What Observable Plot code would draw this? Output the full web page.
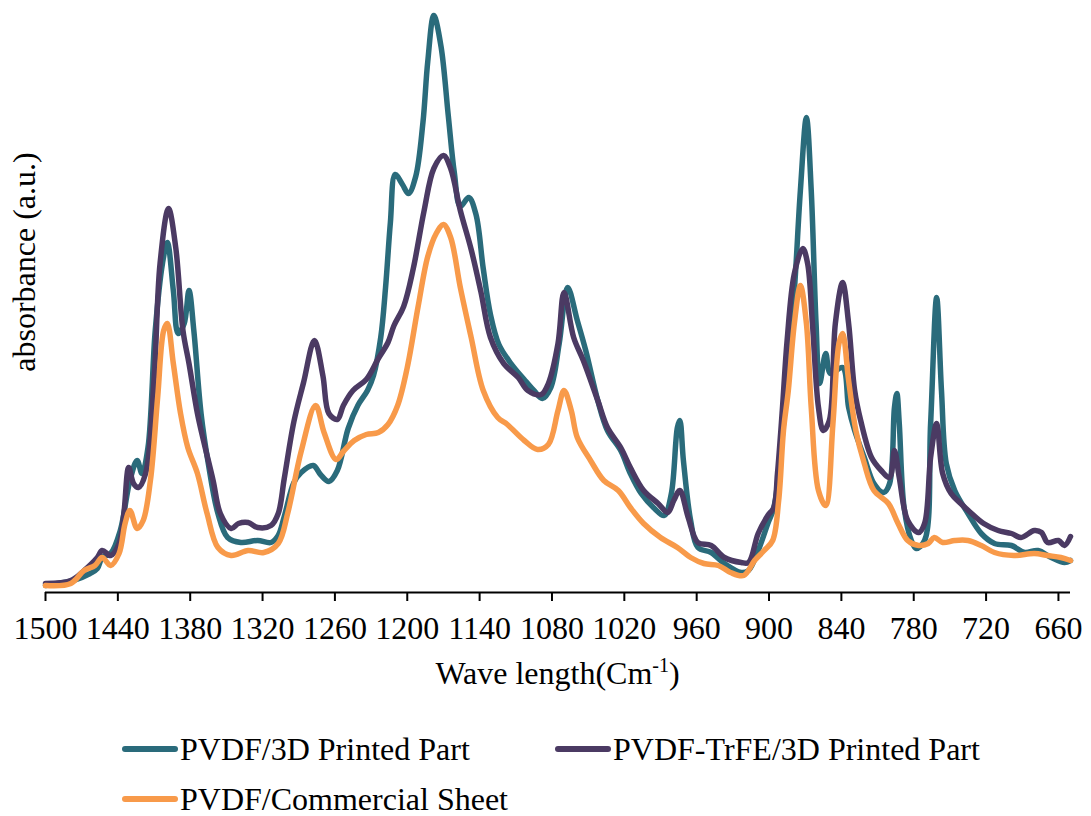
<!DOCTYPE html>
<html>
<head>
<meta charset="utf-8">
<script src="https://cdn.jsdelivr.net/npm/d3@7"></script>
<script src="https://cdn.jsdelivr.net/npm/@observablehq/plot@0.6"></script>
<style>
  html, body { margin: 0; padding: 0; background: #fff; }
  #wrap { position: relative; width: 1091px; height: 816px; font-family: "Liberation Serif", "Times New Roman", serif; }
  #legend { position: absolute; left: 0; top: 700px; width: 1091px; height: 116px; font-size: 32px; color: #000; }
  .item { position: absolute; display: flex; align-items: center; line-height: 32px; white-space: nowrap; }
  .sw { display: inline-block; width: 56px; height: 6px; border-radius: 3px; margin-right: 2px; }
</style>
</head>
<body>
<div id="wrap">
  <div id="chart"></div>
  <div id="legend"></div>
</div>
<script>
// ---- data (wavenumber in cm-1, absorbance in arbitrary units) ----
const seriesNames = ["PVDF/3D Printed Part", "PVDF-TrFE/3D Printed Part", "PVDF/Commercial Sheet"];
const seriesColors = ["#2a6b7b", "#4b3a63", "#f89a4a"];
const xTicks = [1500, 1440, 1380, 1320, 1260, 1200, 1140, 1080, 1020, 960, 900, 840, 780, 720, 660];
const xLabel = "Wave length(Cm";
const xLabelSup = "-1";
const yLabel = "absorbance (a.u.)";

const tealWn = [1500,1477,1463,1457,1453,1446,1438,1430,1424,1420,1415,1409,1403,1399,1394,1390,1385,1381,1377,1371,1365,1357,1349,1338,1324,1313,1307,1302,1294,1288,1278,1272,1265,1258,1249,1241,1233,1228,1222,1218,1214,1210,1204,1199,1193,1187,1183,1178,1172,1166,1161,1156,1149,1143,1137,1131,1124,1114,1103,1095,1088,1081,1074,1067,1059,1052,1042,1034,1023,1015,1006,995,987,981,976,974,971,965,959,948,937,923,917,909,901,896,888,879,874,869,865,861,858,853,849,839,834,829,821,813,805,800,796,794,792,788,782,778,771,766,761,757,753,746,735,724,713,699,688,677,666,655,650];
const tealAbs = [7,12,19,24,35,39,62,112,132,119,145,262,329,350,302,259,269,302,262,179,129,79,55,50,52,50,57,76,110,120,127,118,111,122,164,187,202,217,255,305,370,418,408,399,416,470,531,577,546,477,420,386,395,378,324,278,248,229,213,202,194,205,249,305,272,242,192,162,142,119,99,84,77,99,165,172,132,72,45,40,29,20,22,42,69,85,169,302,402,475,402,269,209,239,219,225,185,162,135,109,100,109,185,199,169,85,52,44,52,169,295,202,129,102,79,59,49,47,40,42,35,30,32];

const purpleWn = [1500,1479,1468,1457,1453,1446,1439,1435,1431,1427,1423,1417,1410,1405,1398,1392,1386,1381,1374,1369,1361,1355,1346,1340,1332,1324,1313,1307,1302,1294,1286,1277,1270,1265,1258,1253,1245,1234,1224,1216,1211,1203,1195,1186,1178,1170,1164,1156,1147,1139,1131,1120,1108,1100,1089,1083,1075,1070,1062,1054,1042,1034,1023,1015,1004,992,984,979,974,967,959,948,937,923,917,909,901,896,893,889,885,879,872,868,864,859,855,850,845,839,834,829,824,815,807,800,796,792,785,776,771,766,761,756,749,741,732,722,710,699,691,680,674,669,660,655,650];
const purpleAbs = [9,12,22,35,42,37,49,79,125,109,105,119,212,329,384,345,262,229,179,152,112,79,64,69,70,65,67,79,114,171,210,252,217,179,173,187,202,213,234,250,267,286,324,382,424,437,424,382,343,301,255,229,215,202,198,209,249,300,255,232,192,165,145,125,102,89,80,92,102,75,50,47,35,30,30,59,77,85,119,182,252,319,344,329,269,185,162,172,269,310,269,202,172,135,122,115,142,115,72,60,69,135,169,119,99,89,79,69,62,59,55,62,60,50,52,47,56];

const orangeWn = [1500,1479,1468,1459,1453,1446,1439,1434,1430,1424,1419,1413,1407,1402,1399,1394,1388,1382,1374,1366,1357,1346,1332,1319,1307,1299,1288,1276,1269,1259,1253,1244,1234,1224,1216,1208,1200,1191,1183,1176,1170,1164,1156,1147,1137,1125,1117,1103,1092,1083,1075,1070,1064,1059,1048,1037,1025,1015,1004,990,976,965,954,942,932,921,912,904,897,892,888,884,879,874,869,865,859,853,847,842,839,834,828,821,813,801,793,785,776,768,763,756,746,735,724,713,697,680,669,658,650];
const orangeAbs = [7,9,22,27,35,27,39,69,82,64,72,112,195,262,269,229,179,145,119,79,45,37,42,40,49,80,141,187,160,133,141,152,158,160,168,187,225,286,336,359,368,355,305,255,202,175,168,152,143,148,182,202,182,155,132,112,102,85,69,55,45,35,29,27,20,17,32,42,52,92,162,202,269,307,269,185,102,87,169,249,259,212,162,129,102,89,69,52,47,49,55,50,52,52,47,40,37,39,37,35,32];

// ---- build table ----
const allWn = [tealWn, purpleWn, orangeWn];
const allAbs = [tealAbs, purpleAbs, orangeAbs];
const data = [];
seriesNames.forEach((name, i) => {
  d3.zip(allWn[i], allAbs[i]).forEach(([wn, a]) => data.push({series: name, wn, abs: a}));
});

const font = "'Liberation Serif', 'Times New Roman', serif";

const chart = Plot.plot({
  width: 1091,
  height: 700,
  marginLeft: 45,
  marginRight: 21,
  marginTop: 12,
  marginBottom: 108,
  style: {fontFamily: font, fontSize: "32px", color: "#000", background: "#fff", overflow: "visible"},
  x: {domain: [1500, 650], label: null},
  y: {domain: [0, 580], axis: null},
  color: {domain: seriesNames, range: seriesColors},
  marks: [
    Plot.axisX({ticks: xTicks, tickSize: 9, tickPadding: 15, strokeWidth: 2, stroke: "#000", fontSize: 32, tickFormat: d => String(d), label: null}),
    Plot.ruleY([0], {stroke: "#000", strokeWidth: 2}),
    Plot.line(data, {x: "wn", y: "abs", z: "series", stroke: "series", strokeWidth: 5.5, curve: "catmull-rom", strokeLinecap: "round", strokeLinejoin: "round"})
  ]
});
document.getElementById("chart").appendChild(chart);

// axis titles
const svg = d3.select(chart);
const xt = svg.append("text")
  .attr("x", 557.5).attr("y", 684)
  .attr("text-anchor", "middle")
  .attr("font-family", font).attr("font-size", 32).attr("fill", "#000");
xt.append("tspan").text(xLabel);
xt.append("tspan").attr("font-size", 20).attr("dy", -12).text(xLabelSup);
xt.append("tspan").attr("dy", 12).text(")");

svg.append("text")
  .attr("transform", "translate(35,262) rotate(-90)")
  .attr("text-anchor", "middle")
  .attr("font-family", font).attr("font-size", 32).attr("fill", "#000")
  .text(yLabel);

// legend
const legendPos = [[122, 33], [555, 33], [122, 83]];
const legend = d3.select("#legend");
seriesNames.forEach((name, i) => {
  const it = legend.append("div").attr("class", "item")
    .style("left", legendPos[i][0] + "px").style("top", legendPos[i][1] + "px");
  it.append("span").attr("class", "sw").style("background", seriesColors[i]);
  it.append("span").text(name);
});
</script>
</body>
</html>
